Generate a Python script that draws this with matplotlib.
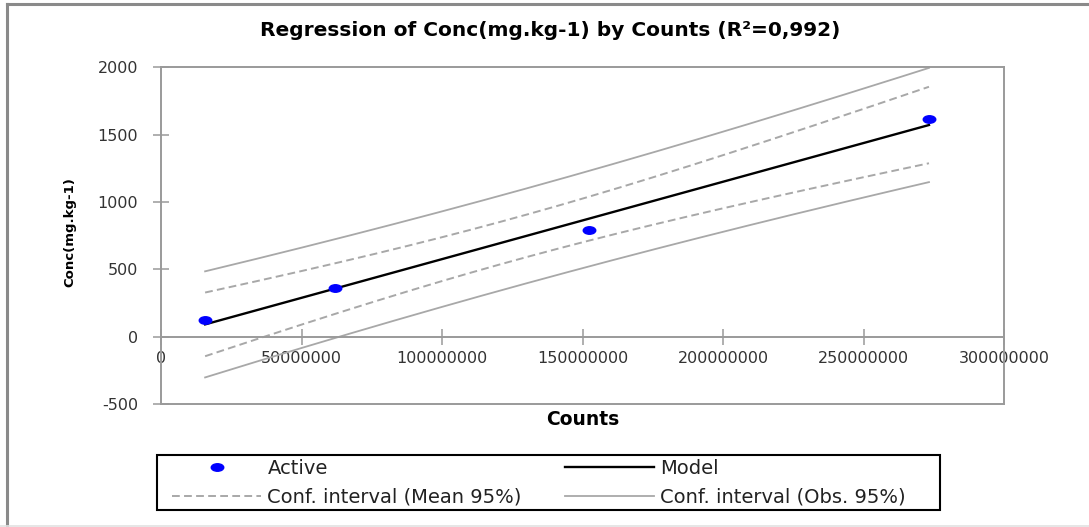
import numpy as np
import matplotlib
matplotlib.use("Agg")
import matplotlib.pyplot as plt
from matplotlib.lines import Line2D
from matplotlib.patches import Rectangle
from matplotlib.path import Path
from matplotlib.transforms import Affine2D
from matplotlib.ticker import FuncFormatter, FixedLocator

# Calibration standards: detector counts vs. concentration
counts = np.array([15.7e6, 61.9e6, 152.4e6, 273.3e6])
conc = np.array([125.0, 365.0, 790.0, 1616.0])

x_ticks = [0, 50e6, 100e6, 150e6, 200e6, 250e6, 300e6]
y_ticks = [-500, 0, 500, 1000, 1500, 2000]
series_labels = ["Active", "Model", "Conf. interval (Mean 95%)", "Conf. interval (Obs. 95%)"]
x_label = "Counts"
y_label = "Conc(mg.kg-1)"
t_crit = 4.303  # Student t, two-sided 95 %, n - 2 = 2 degrees of freedom

# Ordinary least squares fit with confidence bands
n = len(counts)
slope, intercept = np.polyfit(counts, conc, 1)
fitted = intercept + slope * counts
sse = np.sum((conc - fitted) ** 2)
sst = np.sum((conc - conc.mean()) ** 2)
r2 = 1 - sse / sst
s = np.sqrt(sse / (n - 2))
sxx = np.sum((counts - counts.mean()) ** 2)

xs = np.linspace(counts.min(), counts.max(), 200)
ys = intercept + slope * xs
lev = 1.0 / n + (xs - counts.mean()) ** 2 / sxx
half_mean = t_crit * s * np.sqrt(lev)
half_obs = t_crit * s * np.sqrt(1 + lev)

W, H = 1089, 527
fig = plt.figure(figsize=(W / 100, H / 100), dpi=100)
fig.patch.set_facecolor("white")

ax_l, ax_r, ax_t, ax_b = 161, 1004, 67.3, 404
ax = fig.add_axes([ax_l / W, 1 - ax_b / H, (ax_r - ax_l) / W, (ax_b - ax_t) / H])

frame_col = "#9a9a9a"
band_col = "#a8a8a8"

# ellipse-shaped marker for the observations
dot = Path.unit_circle().transformed(Affine2D().scale(1.0, 0.6))

ax.plot(xs, ys + half_obs, color=band_col, lw=1.3, zorder=2)
ax.plot(xs, ys - half_obs, color=band_col, lw=1.3, zorder=2)
ax.plot(xs, ys + half_mean, color=band_col, lw=1.4, ls=(0, (4, 2.2)), zorder=2)
ax.plot(xs, ys - half_mean, color=band_col, lw=1.4, ls=(0, (4, 2.2)), zorder=2)
ax.plot(xs, ys, color="black", lw=1.7, zorder=3)
ax.plot(counts, conc, ls="none", marker=dot, ms=9, color="#0000ff", mec="#0000ff", zorder=4)

ax.set_xlim(x_ticks[0], x_ticks[-1])
ax.set_ylim(y_ticks[0], y_ticks[-1])
ax.xaxis.set_major_locator(FixedLocator(x_ticks))
ax.yaxis.set_major_locator(FixedLocator(y_ticks))
ax.xaxis.set_major_formatter(FuncFormatter(lambda v, p: f"{v:.0f}"))
ax.yaxis.set_major_formatter(FuncFormatter(lambda v, p: f"{v:.0f}"))

ax.spines["bottom"].set_position(("data", 0))
for side in ["left", "right", "top", "bottom"]:
    ax.spines[side].set_color(frame_col)
    ax.spines[side].set_linewidth(1.4)
ax.axhline(y_ticks[0], color=frame_col, lw=1.4, clip_on=False, zorder=5)

ax.tick_params(axis="both", direction="inout", length=11, width=1.1, color=frame_col,
               labelsize=11.5, labelcolor="#333333")
ax.tick_params(axis="y", pad=11)
ax.tick_params(axis="x", pad=5)

ax.set_xlabel(x_label, fontsize=13.5, fontweight="bold", color="black")
ax.xaxis.set_label_coords(0.5, -0.045)
ax.xaxis.label.set_verticalalignment("center")

ax.set_ylabel(y_label, fontsize=9.5, fontweight="bold", color="black")
ax.yaxis.set_label_coords((70 - ax_l) / (ax_r - ax_l), 0.51)
ax.yaxis.label.set_verticalalignment("center")

title = "Regression of Conc(mg.kg-1) by Counts (R\u00b2=" + f"{r2:.3f}".replace(".", ",") + ")"
fig.text(550 / W, 1 - 30 / H, title, ha="center", va="center", fontsize=14.5, fontweight="bold")

# legend: entries from the drawn series, framed by a box
handles = [
    Line2D([], [], ls="none", marker=dot, ms=9, color="#0000ff"),
    Line2D([], [], color=band_col, lw=1.4, ls=(0, (4, 2.2))),
    Line2D([], [], color="black", lw=1.7),
    Line2D([], [], color=band_col, lw=1.3),
]
labels = [series_labels[0], series_labels[2], series_labels[1], series_labels[3]]
leg = fig.legend(handles, labels, loc="upper left", bbox_to_anchor=(172 / W, 1 - 459 / H),
                 ncol=2, frameon=False, fontsize=14, handlelength=4.6, handletextpad=0.31,
                 columnspacing=2.2, labelspacing=0.5, borderpad=0, borderaxespad=0)
for t in leg.get_texts():
    t.set_color("#222222")
fig.add_artist(Rectangle((157 / W, 1 - 510 / H), (940 - 157) / W, (510 - 455) / H,
                         transform=fig.transFigure, fill=False, ec="black", lw=1.5))

# outer chart border
fig.add_artist(Line2D([7 / W, 7 / W], [0, 1 - 4 / H], transform=fig.transFigure, color="#8a8a8a", lw=2.2))
fig.add_artist(Line2D([7 / W, 1], [1 - 4 / H, 1 - 4 / H], transform=fig.transFigure, color="#8a8a8a", lw=2.2))
fig.add_artist(Line2D([0, 1], [1 / H, 1 / H], transform=fig.transFigure, color="#e2e2e2", lw=1.2))

fig.savefig("out.png", dpi=100)
